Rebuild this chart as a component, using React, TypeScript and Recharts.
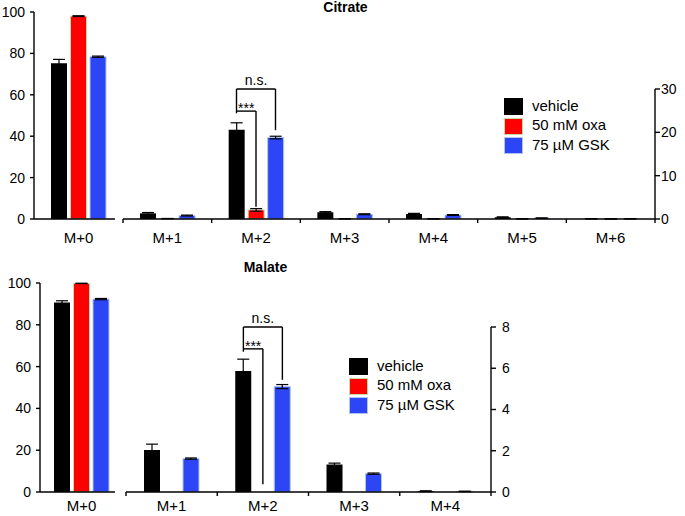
import React from 'react';
import { BarChart, Bar, XAxis, YAxis, ErrorBar, ReferenceLine, Legend } from 'recharts';

const FONT = '"Liberation Sans", Arial, Helvetica, sans-serif';

// ---- series ----
const seriesKeys = ['vehicle', 'oxa', 'gsk'];
const seriesNames = ['vehicle', '50 mM oxa', '75 µM GSK'];
const seriesFills = ['#000000', '#FF0000', '#2C46F5'];
const seriesStrokes = ['none', '#C9D9A6', '#AFC6F3'];

// ---- Citrate ----
const citrateCategories = ['M+0', 'M+1', 'M+2', 'M+3', 'M+4', 'M+5', 'M+6'];
const citrateVehicle = [75.2, 1.3, 20.6, 1.55, 1.15, 0.4, 0.05];
const citrateVehicleSd = [1.9, 0.2, 1.6, 0.15, 0.15, 0.1, 0.02];
const citrateOxa = [98.0, 0.1, 2.1, 0.05, 0.05, 0.03, 0.02];
const citrateOxaSd = [0.2, 0.02, 0.3, 0.02, 0.02, 0.01, 0.01];
const citrateGsk = [78.4, 0.8, 18.8, 1.1, 0.92, 0.2, 0.05];
const citrateGskSd = [0.3, 0.1, 0.3, 0.1, 0.1, 0.05, 0.02];
const citrateLeftTicks = [0, 20, 40, 60, 80, 100];
const citrateRightTicks = [0, 10, 20, 30];
const citrateBrackets = [
  { text: 'n.s.', category: 'M+2', from: 0, to: 2, top: 30, fromEnd: 24.4, toEnd: 20.5 },
  { text: '***', category: 'M+2', from: 0, to: 1, top: 24.9, fromEnd: 24.9, toEnd: 2.8 },
];

// ---- Malate ----
const malateCategories = ['M+0', 'M+1', 'M+2', 'M+3', 'M+4'];
const malateVehicle = [90.7, 2.04, 5.87, 1.33, 0.04];
const malateVehicleSd = [0.8, 0.28, 0.57, 0.07, 0.02];
const malateOxa = [99.8, 0, 0, 0, 0];
const malateOxaSd = [0.1, null, null, null, null];
const malateGsk = [92.3, 1.62, 5.11, 0.89, 0.03];
const malateGskSd = [0.3, 0.03, 0.1, 0.03, 0.01];
const malateLeftTicks = [0, 20, 40, 60, 80, 100];
const malateRightTicks = [0, 2, 4, 6, 8];
const malateBrackets = [
  { text: 'n.s.', category: 'M+2', from: 0, to: 2, top: 8, fromEnd: 6.8, toEnd: 5.44 },
  { text: '***', category: 'M+2', from: 0, to: 1, top: 6.94, fromEnd: 6.94, toEnd: 0.37 },
];

type Row = Record<string, any>;
function buildRows(
  categories: string[],
  vehicle: number[], vehicleSd: (number | null)[],
  oxa: number[], oxaSd: (number | null)[],
  gsk: number[], gskSd: (number | null)[],
): Row[] {
  return categories.map((name, i) => ({
    name,
    vehicle: vehicle[i], vehicleSd: vehicleSd[i],
    oxa: oxa[i], oxaSd: oxaSd[i],
    gsk: gsk[i], gskSd: gskSd[i],
  }));
}

const citrateRows = buildRows(citrateCategories, citrateVehicle, citrateVehicleSd, citrateOxa, citrateOxaSd, citrateGsk, citrateGskSd);
const malateRows = buildRows(malateCategories, malateVehicle, malateVehicleSd, malateOxa, malateOxaSd, malateGsk, malateGskSd);

// ---- style / layout ----
const BAR_SIZE = 16;
const BAR_GAP = 3.5;
const AXIS_STYLE = { stroke: '#000', strokeWidth: 1.4 };
const NUM_TICK = { fill: '#000', fontSize: 14, fontFamily: FONT };
const CAT_TICK = { fill: '#000', fontSize: 15, fontFamily: FONT };
const bracketLabelOffset: Record<string, number> = { 'n.s.': 4, '***': -2 };

function renderBars() {
  return seriesKeys.map((key, i) => (
    <Bar
      key={key}
      xAxisId="cat"
      dataKey={key}
      name={seriesNames[i]}
      fill={seriesFills[i]}
      stroke={seriesStrokes[i]}
      strokeWidth={i === 0 ? 0 : 1}
      isAnimationActive={false}
      legendType="square"
    >
      <ErrorBar dataKey={`${key}Sd`} width={6} stroke="#000" strokeWidth={1.2} direction="y" />
    </Bar>
  ));
}

function numTicks(n: number) {
  const t: number[] = [];
  for (let i = 0; i <= n; i++) {
    t.push(i);
    if (i < n) t.push(i + 0.5);
  }
  return t;
}

function boundaryTick(categories: string[], labelOffset: number) {
  return (props: any) => {
    const { x, y, payload } = props;
    const v = payload.value;
    if (Number.isInteger(v)) {
      return <line x1={x} x2={x} y1={y} y2={y + 4} stroke="#000" strokeWidth={1.4} />;
    }
    return (
      <text x={x} y={y + labelOffset} dy="0.71em" textAnchor="middle" fill="#000" fontSize={15} fontFamily={FONT}>
        {categories[v - 0.5]}
      </text>
    );
  };
}

function renderBrackets(brackets: typeof citrateBrackets, categories: string[], band: number) {
  const centerOffset = (k: number) => ((k - (seriesKeys.length - 1) / 2) * (BAR_SIZE + BAR_GAP)) / band;
  return brackets.flatMap((b, bi) => {
    const c = categories.indexOf(b.category) + 0.5;
    const x1 = c + centerOffset(b.from);
    const x2 = c + centerOffset(b.to);
    const els = [
      <ReferenceLine
        key={`h${bi}`}
        xAxisId="num"
        segment={[{ x: x1, y: b.top }, { x: x2, y: b.top }]}
        stroke="#000"
        strokeWidth={1.4}
        ifOverflow="visible"
        label={{ value: b.text, position: 'top', offset: bracketLabelOffset[b.text], fill: '#000', fontSize: 14, fontFamily: FONT }}
      />,
      <ReferenceLine
        key={`r${bi}`}
        xAxisId="num"
        segment={[{ x: x2, y: b.top }, { x: x2, y: b.toEnd }]}
        stroke="#000"
        strokeWidth={1.4}
        ifOverflow="visible"
      />,
    ];
    if (b.fromEnd < b.top) {
      els.push(
        <ReferenceLine
          key={`l${bi}`}
          xAxisId="num"
          segment={[{ x: x1, y: b.top }, { x: x1, y: b.fromEnd }]}
          stroke="#000"
          strokeWidth={1.4}
          ifOverflow="visible"
        />,
      );
    }
    return els;
  });
}

function LegendBox(props: any) {
  const payload = [...(props.payload || [])].sort(
    (a: any, b: any) => seriesKeys.indexOf(a.dataKey) - seriesKeys.indexOf(b.dataKey),
  );
  return (
    <div style={{ fontFamily: FONT, fontSize: 15, color: '#000', lineHeight: '15px' }}>
      {payload.map((entry: any, i: number) => {
        const k = seriesKeys.indexOf(entry.dataKey);
        return (
          <div key={i} style={{ display: 'flex', alignItems: 'center', height: 19.5 }}>
            <span
              style={{
                display: 'inline-block',
                width: 19,
                height: 17,
                boxSizing: 'border-box',
                background: seriesFills[k],
                border: `1px solid ${k === 0 ? '#000' : seriesStrokes[k]}`,
              }}
            />
            <span style={{ marginLeft: 9, position: 'relative', top: -1.5, whiteSpace: 'nowrap' }}>{entry.value}</span>
          </div>
        );
      })}
    </div>
  );
}

type PanelProps = {
  title: string;
  titleCenter: number;
  top: number;
  rows: Row[];
  leftTicks: number[];
  rightTicks: number[];
  brackets: typeof citrateBrackets;
  leftAxisX: number;
  plotTop: number;
  rightPlotTop: number;
  rightLeft: number;
  rightAxisX: number;
  height: number;
  xAxisHeight: number;
  labelOffset: number;
  rightTickMargin: number;
  legendLeft: number;
  legendTop: number;
};

function Panel(p: PanelProps) {
  const m0Rows = p.rows.slice(0, 1);
  const rightRows = p.rows.slice(1).map((r, i) => ({ ...r, slot: i + 0.5 }));
  const rightCats = rightRows.map((r) => r.name as string);
  const yAxisWidth = 30;
  const rightMarginRight = 685 - p.rightAxisX - yAxisWidth;
  const plotWidth = p.rightAxisX - p.rightLeft;
  const band = plotWidth / rightCats.length;
  const rightMax = p.rightTicks[p.rightTicks.length - 1];
  const leftMax = p.leftTicks[p.leftTicks.length - 1];
  return (
    <div style={{ position: 'absolute', left: 0, top: p.top, width: 685, height: p.height }}>
      <div
        style={{
          position: 'absolute', left: p.titleCenter - 100, width: 200, top: 0, textAlign: 'center',
          fontWeight: 'bold', fontSize: 14, lineHeight: '14px', fontFamily: FONT, color: '#000',
        }}
      >
        {p.title}
      </div>
      <div style={{ position: 'absolute', left: 0, top: 0 }}>
        <BarChart
          width={120}
          height={p.height}
          data={m0Rows}
          margin={{ top: p.plotTop, right: 5, left: 0, bottom: 0 }}
          barSize={BAR_SIZE}
          barGap={BAR_GAP}
        >
          <XAxis
            xAxisId="cat"
            dataKey="name"
            padding={{ left: 8, right: 0 }}
            axisLine={AXIS_STYLE}
            tickLine={false}
            tickSize={0}
            tickMargin={p.labelOffset}
            tick={CAT_TICK}
            height={p.xAxisHeight}
            interval={0}
          />
          <YAxis
            domain={[0, leftMax]}
            ticks={p.leftTicks}
            allowDataOverflow
            width={p.leftAxisX}
            axisLine={AXIS_STYLE}
            tickLine={AXIS_STYLE}
            tickSize={4}
            tickMargin={5}
            tick={NUM_TICK}
            interval={0}
          />
          {renderBars()}
        </BarChart>
      </div>
      <div style={{ position: 'absolute', left: 0, top: 0 }}>
        <BarChart
          width={685}
          height={p.height}
          data={rightRows}
          margin={{ top: p.rightPlotTop, right: rightMarginRight, left: p.rightLeft, bottom: 0 }}
          barSize={BAR_SIZE}
          barGap={BAR_GAP}
        >
          <XAxis xAxisId="cat" dataKey="name" hide orientation="top" height={0} />
          <XAxis
            xAxisId="num"
            type="number"
            dataKey="slot"
            domain={[0, rightCats.length]}
            allowDataOverflow
            ticks={numTicks(rightCats.length)}
            interval={0}
            axisLine={AXIS_STYLE}
            tickLine={false}
            tickSize={0}
            tickMargin={0}
            tick={boundaryTick(rightCats, p.labelOffset)}
            height={p.xAxisHeight}
          />
          <YAxis
            orientation="right"
            domain={[0, rightMax]}
            ticks={p.rightTicks}
            allowDataOverflow
            width={yAxisWidth}
            axisLine={AXIS_STYLE}
            tickLine={AXIS_STYLE}
            tickSize={5}
            tickMargin={p.rightTickMargin}
            tick={NUM_TICK}
            interval={0}
          />
          {renderBars()}
          {renderBrackets(p.brackets, rightCats, band)}
          <Legend
            layout="vertical"
            align="center"
            verticalAlign="middle"
            content={LegendBox}
            wrapperStyle={{ left: p.legendLeft, top: p.legendTop, width: 'auto', height: 'auto' }}
          />
        </BarChart>
      </div>
    </div>
  );
}

export default function App() {
  return (
    <div style={{ position: 'absolute', left: 0, top: 0, width: 685, height: 516, background: '#fff', overflow: 'hidden' }}>
      <Panel
        title="Citrate"
        titleCenter={345.5}
        top={0}
        rows={citrateRows}
        leftTicks={citrateLeftTicks}
        rightTicks={citrateRightTicks}
        brackets={citrateBrackets}
        leftAxisX={34}
        plotTop={12}
        rightPlotTop={89}
        rightLeft={123}
        rightAxisX={655}
        height={249}
        xAxisHeight={30}
        labelOffset={13}
        rightTickMargin={1}
        legendLeft={504}
        legendTop={97}
      />
      <Panel
        title="Malate"
        titleCenter={265.5}
        top={260}
        rows={malateRows}
        leftTicks={malateLeftTicks}
        rightTicks={malateRightTicks}
        brackets={malateBrackets}
        leftAxisX={40}
        plotTop={23}
        rightPlotTop={67}
        rightLeft={126}
        rightAxisX={491}
        height={256}
        xAxisHeight={24}
        labelOffset={8}
        rightTickMargin={6}
        legendLeft={349}
        legendTop={97}
      />
    </div>
  );
}
